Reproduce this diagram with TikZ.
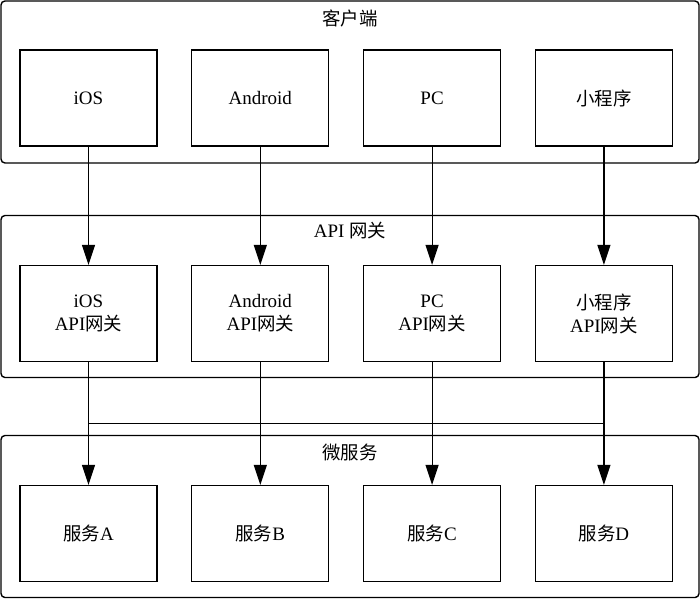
\documentclass[tikz,border=0pt]{standalone}
\usepackage{fontspec}
\setmainfont{Liberation Serif}
\newfontfamily\cjk{Noto Sans CJK SC}[Scale=0.97]
\usepackage{tikz}
\usetikzlibrary{arrows.meta, positioning, calc}

\tikzset{
	groupbox/.style={draw, line width=0.7pt, rounded corners=2pt, minimum width=349pt, minimum height=81pt, inner sep=0pt},
	itembox/.style={draw, line width=0.6pt, minimum width=68.5pt, minimum height=48pt, align=center, inner sep=0pt},
	flow/.style={-{Triangle[length=10pt,width=6.5pt]}, line width=0.6pt},
}

\begin{document}
\begin{tikzpicture}[x=0.5pt, y=-0.5pt, node distance=16.8pt,
	every node/.style={font=\fontsize{9.5}{11.5}\selectfont}]
	\useasboundingbox (0,0) rectangle (700,600);

	% Groups
	\node[groupbox] (clients) at (350,82) {};
	\node[groupbox] (gateway) at (350,296.5) {};
	\node[groupbox] (services) at (350,516.5) {};
	\node (clientsT) at (350,18) {\cjk 客户端};
	\node (gatewayT) at (350,231) {API {\cjk 网关}};
	\node (servicesT) at (350,452) {\cjk 微服务};

	% Clients
	\node[itembox] (ios) at (88.5,98) {iOS};
	\node[itembox, right=of ios] (android) {Android};
	\node[itembox, right=of android] (pc) {PC};
	\node[itembox, right=of pc] (mini) {\cjk 小程序};

	% API gateways
	\node[itembox] (iosgw) at (88.5,313.5) {iOS\\API{\cjk 网关}};
	\node[itembox, right=of iosgw] (androidgw) {Android\\API{\cjk 网关}};
	\node[itembox, right=of androidgw] (pcgw) {PC\\API{\cjk 网关}};
	\node[itembox, right=of pcgw] (minigw) {{\cjk 小程序}\\API{\cjk 网关}};

	% Services
	\node[itembox] (srvA) at (88.5,533.5) {{\cjk 服务}A};
	\node[itembox, right=of srvA] (srvB) {{\cjk 服务}B};
	\node[itembox, right=of srvB] (srvC) {{\cjk 服务}C};
	\node[itembox, right=of srvC] (srvD) {{\cjk 服务}D};

	% Clients to gateways
	\draw[flow] (ios) -- (iosgw);
	\draw[flow] (android) -- (androidgw);
	\draw[flow] (pc) -- (pcgw);
	\draw[flow] (mini) -- (minigw);

	% Gateways to services
	\draw[flow] (iosgw) -- (srvA);
	\draw[flow] (androidgw) -- (srvB);
	\draw[flow] (pcgw) -- (srvC);
	\draw[flow] (minigw) -- (srvD);

	% Shared bus
	\path (iosgw.south) ++(0,61) coordinate (busL);
	\path (minigw.south) ++(0,61) coordinate (busR);
	\draw[line width=0.6pt] (busL) -- (busR);
\end{tikzpicture}
\end{document}
